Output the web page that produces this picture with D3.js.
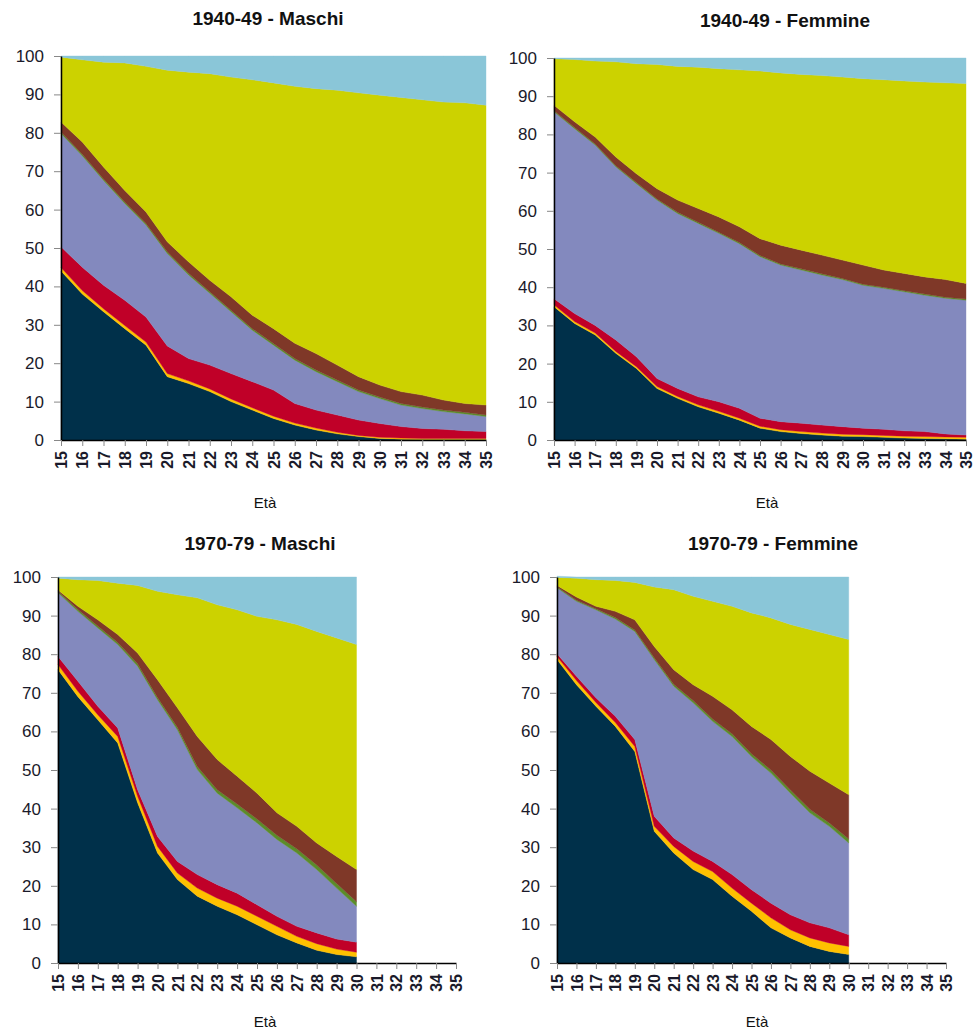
<!DOCTYPE html>
<html>
<head>
<meta charset="utf-8">
<script src="https://cdn.jsdelivr.net/npm/d3@7"></script>
<style>
  body { margin: 0; background: #fff; font-family: Arial, "Liberation Sans", sans-serif; }
  .title { font-weight: bold; font-size: 19px; text-anchor: middle; fill: #111; }
  .tick text { fill: #1a1a2a; font-family: Arial, "Liberation Sans", sans-serif; }
  .ylab .tick text { font-size: 17px; }
  .xlab .tick text { font-size: 16px; font-weight: bold; }
  .lbl { font-size: 15px; text-anchor: middle; fill: #111; }
</style>
</head>
<body>
<svg width="974" height="1032"></svg>
<script>
// ages (x tick labels)
const ages = [15,16,17,18,19,20,21,22,23,24,25,26,27,28,29,30,31,32,33,34,35];
const yTicks = [0,10,20,30,40,50,60,70,80,90,100];

// stacking order, bottom to top
const layers = ["navy","orange","red","violet","green","brown","lime","sky"];
const colors = ["#00304a","#ffc000","#c00028","#8389be","#5b8c2a","#7f3828","#ccd200","#8ac6d8"];

// 1940-49 Maschi
const m40 = {
  navy:   [44,38,33.4,29,24.7,16.5,14.7,12.6,10,7.8,5.6,3.9,2.6,1.6,0.9,0.4,0.2,0.1,0.1,0.1,0.1],
  orange: [0.9,0.9,0.8,0.8,0.8,0.8,0.7,0.7,0.7,0.6,0.6,0.5,0.5,0.4,0.3,0.3,0.3,0.3,0.3,0.3,0.3],
  red:    [5.4,6.1,6.1,6.6,6.5,7.2,5.8,6.2,6.6,6.8,6.8,5.1,4.7,4.5,4.0,3.6,3.0,2.6,2.4,2.0,1.8],
  violet: [29.5,29,27.3,25.2,24,24.1,21.8,18.7,16.1,13.4,11.7,11.3,10,8.7,7.4,6.5,5.6,5.2,4.6,4.4,3.9],
  green:  [0.4,0.4,0.4,0.4,0.4,0.4,0.4,0.4,0.4,0.4,0.4,0.4,0.4,0.4,0.4,0.4,0.4,0.4,0.4,0.4,0.4],
  brown:  [2.6,3.2,3.1,3.0,3.0,2.6,3.0,3.0,3.5,3.5,3.9,4.0,4.3,3.9,3.5,3.1,3.1,3.1,2.6,2.3,2.6],
  lime:   [16.9,21.4,27.3,33.2,37.9,44.7,49.4,53.8,57.2,61.3,64,66.9,69,71.6,73.9,75.5,76.6,76.9,77.6,78.3,78.1],
  sky:    [0.3,1,1.6,1.8,2.7,3.7,4.2,4.6,5.5,6.2,7,7.9,8.5,8.9,9.6,10.2,10.8,11.4,12,12.2,12.8]
};

// 1940-49 Femmine
const f40 = {
  navy:   [34.9,30.5,27.5,22.7,18.7,13.5,10.9,8.7,7,5.2,3.1,2.2,1.7,1.3,1.0,0.9,0.7,0.5,0.4,0.3,0.2],
  orange: [0.5,0.5,0.5,0.5,0.5,0.5,0.5,0.5,0.5,0.5,0.5,0.5,0.5,0.5,0.5,0.5,0.5,0.5,0.5,0.5,0.5],
  red:    [1.6,2.1,2.0,3.0,2.6,2.1,2.1,2.1,2.5,2.6,2.1,2.1,2.2,2.1,2.0,1.7,1.6,1.4,1.3,0.8,0.6],
  violet: [48.9,48.4,47.2,45.3,45.3,46.7,45.8,45.4,44.1,43.1,42.3,41,40.1,39.3,38.5,37.4,36.9,36.4,35.7,35.5,35.3],
  green:  [0.3,0.3,0.3,0.3,0.3,0.3,0.3,0.3,0.3,0.3,0.3,0.3,0.3,0.3,0.3,0.3,0.3,0.3,0.3,0.3,0.3],
  brown:  [1.4,1.5,1.8,2.3,2.3,2.7,3.2,3.6,4.0,4.1,4.4,4.9,4.9,4.9,4.8,5.0,4.5,4.5,4.5,4.6,4.1],
  lime:   [12.2,16.3,19.9,24.9,28.8,32.5,35,37,38.8,41.1,43.9,45.1,46,47,47.9,48.8,49.8,50.4,51,51.5,52.3],
  sky:    [0.2,0.4,0.8,1,1.5,1.7,2.2,2.4,2.8,3.1,3.4,3.9,4.3,4.6,5,5.4,5.7,6,6.3,6.5,6.7]
};

// 1970-79 Maschi (observed up to age 30)
const m70 = {
  navy:   [76,69,63,57,41.5,28.5,21.6,17.3,14.7,12.5,9.9,7.3,5.2,3.3,2.2,1.6],
  orange: [1.3,1.4,1.3,1.7,1.7,1.7,1.7,2.1,2.1,2.2,2.2,2.2,1.7,1.7,1.4,1.2],
  red:    [2.1,2.6,2.2,2.2,1.7,2.6,3.0,3.5,3.5,3.4,3.0,2.6,2.6,2.8,2.6,2.6],
  violet: [16.5,18.1,20.3,21.6,32.0,35.4,34.1,27.2,23.7,22.1,21.2,19.9,19,16.4,13.2,9.3],
  green:  [0.4,0.5,0.5,0.5,0.6,0.6,0.7,0.8,0.9,1,1,1.1,1.1,1.2,1.2,1.2],
  brown:  [0.3,0.8,1.6,2.1,2.8,4.6,5.0,7.8,7.8,7.2,6.7,5.8,5.8,5.7,7.0,8.3],
  lime:   [3.1,6.9,10.2,13.3,17.5,22.9,29.3,35.9,40.1,43.1,45.8,50,52.3,54.8,56.6,58.3],
  sky:    [0.3,0.7,0.9,1.6,2.2,3.7,4.6,5.4,7.2,8.5,10.2,11.1,12.3,14.1,15.8,17.5]
};

// 1970-79 Femmine (observed up to age 30)
const f70 = {
  navy:   [78.6,72.1,66.5,61.3,54.8,34.1,28.5,24.2,21.6,17.3,13.4,9.1,6.5,4.3,3,2.2],
  orange: [0.8,1.1,1.0,1.0,1.3,1.3,1.7,2.1,2.1,2.1,2.1,2.6,2.1,2.2,2.2,2.1],
  red:    [0.7,1.1,1.2,1.6,1.8,2.6,2.2,2.7,2.6,3.5,3.5,3.8,3.9,3.9,3.9,3.0],
  violet: [17.1,19.4,22.8,25.2,28,40.6,39.3,38.4,36.3,35.8,34.5,33.7,31.5,28.5,26.3,23.8],
  green:  [0.3,0.3,0.3,0.4,0.4,0.5,0.5,0.6,0.6,0.7,0.7,0.8,0.8,0.9,0.9,1.0],
  brown:  [0.3,0.8,0.6,1.6,2.6,2.9,3.8,4.1,5.9,6.2,7.1,7.9,8.7,9.9,10.3,11.5],
  lime:   [2.1,4.9,6.9,8,9.7,15.4,20.7,22.9,24.6,26.8,29.4,31.5,34.2,36.7,38.5,40.2],
  sky:    [0.3,0.3,0.7,0.9,1.4,2.6,3.3,5,6.3,7.6,9.3,10.6,12.3,13.6,14.9,16.2]
};

var panels = [
  { title: "1940-49 - Maschi",  data: m40, left: 61,  right: 486, top: 56,  bottom: 440, tx: 268, ty: 25,  lx: 265, ly: 508 },
  { title: "1940-49 - Femmine", data: f40, left: 554, right: 966, top: 58,  bottom: 440, tx: 785, ty: 27,  lx: 767, ly: 508 },
  { title: "1970-79 - Maschi",  data: m70, left: 58,  right: 456, top: 577, bottom: 963, tx: 260, ty: 550, lx: 265, ly: 1027 },
  { title: "1970-79 - Femmine", data: f70, left: 557, right: 946, top: 577, bottom: 963, tx: 773, ty: 550, lx: 757, ly: 1027 }
];

var svg = d3.select("svg");

panels.forEach(function(p) {
  var x = d3.scaleLinear().domain([15, 35]).range([p.left, p.right]);
  var y = d3.scaleLinear().domain([0, 100]).range([p.bottom, p.top]);

  // rows for the stack
  var rows = p.data.navy.map(function(_, i) {
    var r = { age: ages[i] };
    layers.forEach(function(k) { r[k] = p.data[k][i]; });
    return r;
  });
  var stacked = d3.stack().keys(layers)(rows);

  var area = d3.area()
    .x(function(d) { return x(d.data.age); })
    .y0(function(d) { return y(d[0]); })
    .y1(function(d) { return y(d[1]); });

  svg.append("g").selectAll("path")
    .data(stacked)
    .enter()
    .append("path")
    .attr("d", area)
    .attr("fill", function(d, i) { return colors[i]; })
    .attr("stroke", function(d, i) { return colors[i]; })
    .attr("stroke-width", 0.4);

  // axes
  var gy = svg.append("g")
    .attr("class", "ylab")
    .attr("transform", "translate(" + p.left + ",0)")
    .call(d3.axisLeft(y).tickValues(yTicks).tickSize(7).tickSizeOuter(0).tickPadding(10));

  var gx = svg.append("g")
    .attr("class", "xlab")
    .attr("transform", "translate(0," + p.bottom + ")")
    .call(d3.axisBottom(x).tickValues(ages).tickSize(6).tickSizeOuter(0).tickFormat(d3.format("d")));

  gx.selectAll("text")
    .attr("transform", "rotate(-90)")
    .attr("text-anchor", "end")
    .attr("x", -11)
    .attr("y", 0)
    .attr("dy", "0.35em");

  [gx, gy].forEach(function(g) {
    g.select(".domain").attr("stroke", "#000").attr("stroke-width", 1.5);
    g.selectAll(".tick line").attr("stroke", "#888");
  });

  svg.append("text")
    .attr("class", "title")
    .attr("x", p.tx)
    .attr("y", p.ty)
    .text(p.title);

  svg.append("text")
    .attr("class", "lbl")
    .attr("x", p.lx)
    .attr("y", p.ly)
    .text("Età");
});
</script>
</body>
</html>
